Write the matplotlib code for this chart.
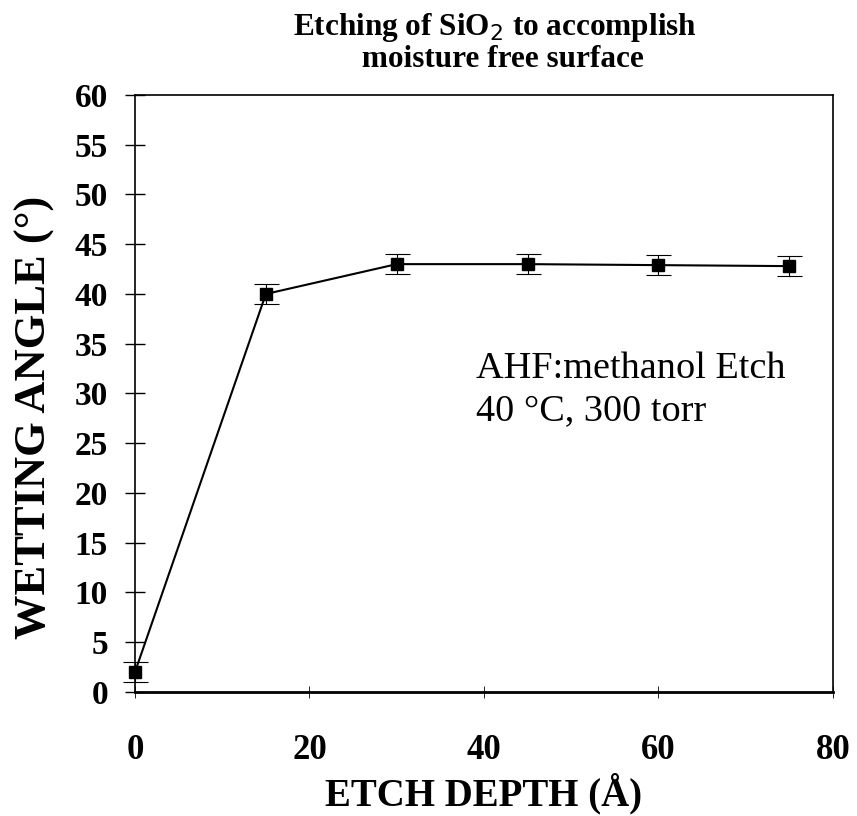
import matplotlib
matplotlib.use("Agg")
import matplotlib.pyplot as plt

# etch depth (A) vs wetting angle (deg)
depth = [0, 15, 30, 45, 60, 75]
angle = [2.0, 40.0, 43.0, 43.0, 42.9, 42.8]
err = [1.0, 1.0, 1.0, 1.0, 1.0, 1.0]

xticks = [0, 20, 40, 60, 80]
yticks = list(range(0, 61, 5))

plt.rcParams['font.family'] = ['Liberation Serif', 'DejaVu Serif']

fig = plt.figure(figsize=(8.57, 8.16), dpi=100)
ax = fig.add_axes([0.1575, 0.152, 0.8145, 0.7316])

eb = ax.errorbar(depth, angle, yerr=err, color='black', lw=1.5, marker='s',
                 ms=8, capsize=9, elinewidth=0.8, capthick=0.8)
for art in eb.lines[0:1] + tuple(eb.lines[1]) + tuple(eb.lines[2]):
    art.set_clip_on(False)

ax.set_xlim(0, 80)
ax.set_ylim(0, 60)
ax.set_xticks(xticks)
ax.set_yticks(yticks)
ax.tick_params(axis='y', direction='inout', length=15, width=1, labelsize=24, pad=12)
ax.tick_params(axis='x', direction='inout', length=8, width=0.6, labelsize=25, pad=26)
for lab in ax.get_xticklabels() + ax.get_yticklabels():
    lab.set_fontweight('bold')
for s in ax.spines.values():
    s.set_linewidth(1.2)
ax.spines['bottom'].set_linewidth(2)

ax.set_xlabel('ETCH DEPTH (Å)', fontsize=28, fontweight='bold', va='center')
ax.xaxis.set_label_coords(0.5, -0.170)
ax.set_ylabel('WETTING ANGLE (°)', fontsize=32, fontweight='bold', va='center')
ax.yaxis.set_label_coords(-0.143, 0.46)

ax.text(0.488, 0.571, 'AHF:methanol Etch\n40 °C, 300 torr', transform=ax.transAxes,
        fontsize=27.5, va='top', ha='left', linespacing=1.3)

fig.text(0.577, 0.948, 'Etching of SiO$_2$ to accomplish\n  moisture free surface',
         ha='center', va='center', fontsize=22.5, fontweight='bold', linespacing=1.02)

fig.savefig('out.png', dpi=100)
